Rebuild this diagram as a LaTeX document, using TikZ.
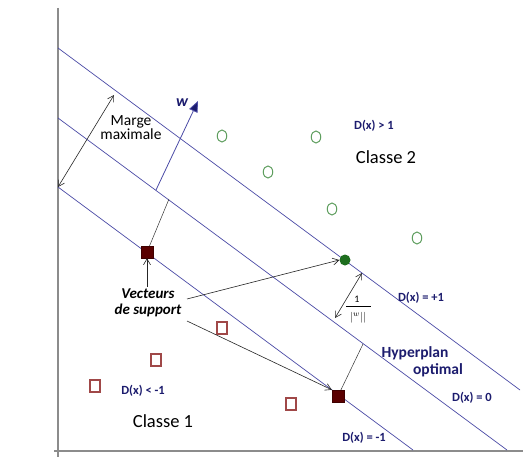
\documentclass[tikz,border=0pt]{standalone}
\usepackage{fontspec}
\setmainfont{Carlito}
\usetikzlibrary{arrows.meta,shapes.geometric}
\definecolor{hline}{HTML}{4B4BA6}
\definecolor{navy}{HTML}{1C1C6E}
\definecolor{cgreen}{HTML}{5E9E5E}
\definecolor{cred}{HTML}{A04848}
\definecolor{svred}{HTML}{5A0000}
\definecolor{svgreen}{HTML}{1E6E1E}
\tikzset{
  axis/.style={draw=gray!90, line width=1.3pt},
  hyp/.style={draw=hline, line width=0.7pt},
  ptr/.style={draw=black!85, line width=0.6pt, -{Straight Barb[length=6pt,width=7pt]}},
  dptr/.style={draw=black!85, line width=0.6pt, {Straight Barb[length=6pt,width=7pt]}-{Straight Barb[length=6pt,width=7pt]}},
  perp/.style={draw=black!80, line width=0.5pt},
  c2/.style={draw=cgreen, line width=1pt, ellipse, inner sep=0pt, minimum width=9.5pt, minimum height=12pt},
  c1/.style={draw=cred, line width=1.1pt, rectangle, inner sep=0pt, minimum width=10pt, minimum height=12pt},
  svsq/.style={fill=svred, draw=svred!70!black, rectangle, inner sep=0pt, minimum size=12pt},
  svdot/.style={fill=svgreen, circle, inner sep=0pt, minimum size=11pt},
  dlab/.style={text=navy, font=\bfseries\fontsize{12.5}{14}\selectfont, inner sep=0pt},
  big/.style={font=\fontsize{18.5}{20}\selectfont, inner sep=0pt},
}
\begin{document}
\begin{tikzpicture}[x=1pt,y=-1pt]
\path[use as bounding box, fill=white] (0,0) rectangle (530,460);
% axes
\coordinate (yt) at (58,8);
\coordinate (yb) at (58,457);
\coordinate (xl) at (54,451);
\coordinate (xr) at (523,451);
\draw[axis] (yt) -- (yb);
\draw[axis] (xl) -- (xr);
% hyperplanes
\coordinate (a1) at (58,48);   \coordinate (b1) at (520,390);
\coordinate (a2) at (58,118);  \coordinate (b2) at (507,450);
\coordinate (a3) at (58,187);  \coordinate (b3) at (413,450);
\draw[hyp] (a1) -- (b1);
\draw[hyp] (a2) -- (b2);
\draw[hyp] (a3) -- (b3);
% margin arrow
\coordinate (m1) at (58,187);
\coordinate (m2) at (114,95);
\draw[dptr] (m1) -- (m2);
\node[font=\fontsize{15.5}{17}\selectfont, align=center, inner sep=0pt] (marge) at (131,128) {Marge\\[-3pt]maximale};
% w vector
\coordinate (w0) at (156,190);
\coordinate (w1) at (198,101);
\draw[draw=hline, line width=0.8pt, -{Triangle[length=11pt,width=9pt,fill=navy]}] (w0) -- (w1);
\node[text=navy, font=\bfseries\itshape\fontsize{16}{18}\selectfont, inner sep=0pt] (wl) at (182,103) {w};
% class 2 points
\node[c2] (g1) at (222,136) {};
\node[c2] (g2) at (316,137) {};
\node[c2] (g3) at (268,172) {};
\node[c2] (g4) at (332,209) {};
\node[c2] (g5) at (417,238) {};
% class 1 points
\node[c1] (r1) at (222,328) {};
\node[c1] (r2) at (156,360) {};
\node[c1] (r3) at (95,386) {};
\node[c1] (r4) at (291,404) {};
% support vectors
\coordinate (p1) at (169,199);
\coordinate (p2) at (363,344);
\draw[perp] (147,252) -- (p1);
\draw[perp] (338,396) -- (p2);
\node[svsq] (s1) at (147,252) {};
\node[svsq] (s2) at (338,396) {};
\node[svdot] (s3) at (345,260) {};
% support label
\node[font=\bfseries\itshape\fontsize{15}{17}\selectfont, align=center, inner sep=1pt] (sv) at (148,303) {Vecteurs\\[-1pt]de support};
\draw[ptr] (sv.north) ++(-1,-1) coordinate (sva) -- (s1.south);
\coordinate (svb) at (187,299);
\coordinate (svc) at (187,321);
\draw[ptr] (svb) -- (s3.west);
\draw[ptr] (svc) -- (s2.north west);
% 1/||w||
\coordinate (n1) at (335,318);
\coordinate (n2) at (362,273);
\draw[dptr] (n1) -- (n2);
\node[font=\fontsize{10}{11}\selectfont, inner sep=0pt] (one) at (357,299) {1};
\draw[line width=0.5pt] (346,306) -- (371,306);
\node[font=\fontsize{11}{12}\selectfont, inner sep=0pt] (nw) at (358,318) {$|^{\scriptstyle w}||$};
% labels
\node[dlab] (dp1) at (421,298) {D(x) = +1};
\node[text=navy, font=\bfseries\fontsize{15.5}{17}\selectfont, inner sep=0pt] (hyp1) at (415,353) {Hyperplan};
\node[text=navy, font=\bfseries\fontsize{15.5}{17}\selectfont, inner sep=0pt] (hyp2) at (438,370) {optimal};
\node[dlab] (d0) at (472,398) {D(x) = 0};
\node[dlab] (dm1) at (364,438) {D(x) = -1};
\node[dlab] (dgt) at (374,126) {D(x) > 1};
\node[dlab] (dlt) at (143,391) {D(x) < -1};
\node[big] (cl2) at (386,157) {Classe 2};
\node[big] (cl1) at (163,421) {Classe 1};
\end{tikzpicture}
\end{document}
